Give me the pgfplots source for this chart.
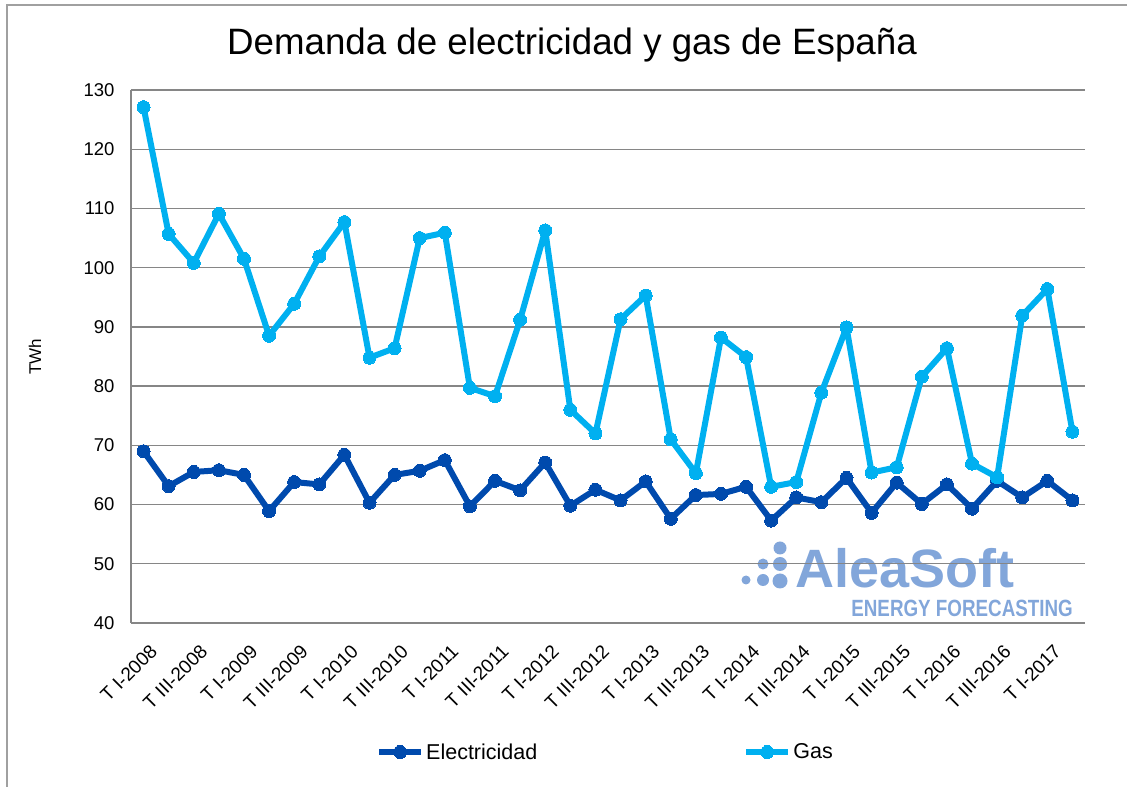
\documentclass[border=0pt]{standalone}
\usepackage{fontspec}
\setmainfont{Liberation Sans}
\usepackage{pgfplots}
\usepackage{pgfplotstable}
\pgfplotsset{compat=1.18}
\definecolor{elec}{RGB}{0,74,173}
\definecolor{gas}{RGB}{0,176,240}
\definecolor{gridgray}{RGB}{134,134,134}
\definecolor{logo}{RGB}{130,166,218}

% quarterly demand, TWh (0 = T I-2008 ... 37 = T II-2017)
\pgfplotstableread{
q  elec  gas
0  69.0  127.1
1  63.1  105.7
2  65.5  100.8
3  65.8  109.1
4  65.0  101.5
5  58.9  88.5
6  63.8  93.9
7  63.4  101.9
8  68.4  107.7
9  60.3  84.8
10 65.0  86.4
11 65.7  105.0
12 67.5  105.9
13 59.7  79.7
14 64.0  78.3
15 62.4  91.2
16 67.1  106.3
17 59.8  76.0
18 62.5  72.0
19 60.7  91.3
20 63.9  95.3
21 57.6  71.0
22 61.6  65.3
23 61.8  88.2
24 63.0  84.9
25 57.3  63.0
26 61.2  63.8
27 60.4  78.9
28 64.5  89.9
29 58.6  65.4
30 63.7  66.3
31 60.1  81.6
32 63.4  86.4
33 59.3  66.9
34 64.0  64.6
35 61.2  91.9
36 64.0  96.4
37 60.7  72.3
}\demanda

\begin{document}
\begin{tikzpicture}
\path[use as bounding box] (0,0) rectangle (1127pt,787pt);
\draw[color={rgb,255:red,160;green,160;blue,160}, line width=1.5pt] (7pt,0pt) -- (7pt,782pt) -- (1127pt,782pt);

% title and y label
\node[anchor=base, font=\fontsize{36.7}{40}\selectfont] at (572pt,732pt) {Demanda de electricidad y gas de España};
\node[rotate=90, font=\fontsize{17}{20}\selectfont] at (35pt,430pt) {TWh};

% logo (under the grid)
\begin{scope}[logo]
\fill (746pt,207pt) circle (4.5pt);
\fill (763pt,223pt) circle (5.5pt);
\fill (763pt,207pt) circle (6pt);
\fill (780pt,239pt) circle (6.5pt);
\fill (780pt,223pt) circle (7pt);
\fill (780pt,206pt) circle (7.5pt);
\node[anchor=base west, inner sep=0pt, font=\fontsize{54}{56}\selectfont\bfseries] at (795pt,199pt) {AleaSoft};
\node[anchor=base east, inner sep=0pt] at (1073pt,170pt) {\scalebox{0.8}[1]{\fontsize{23.5}{25}\selectfont\bfseries ENERGY FORECASTING}};
\end{scope}

\begin{axis}[
    at={(131pt,164pt)}, anchor=south west,
    scale only axis,
    width=954pt, height=533pt,
    xmin=-0.5, xmax=37.5,
    ymin=40, ymax=130,
    ytick={40,50,...,130},
    xtick={0,2,...,36},
    xticklabels={T I-2008,T III-2008,T I-2009,T III-2009,T I-2010,T III-2010,T I-2011,T III-2011,T I-2012,T III-2012,T I-2013,T III-2013,T I-2014,T III-2014,T I-2015,T III-2015,T I-2016,T III-2016,T I-2017},
    axis x line=bottom, axis y line=left,
    axis line style={draw=gridgray, line width=1.3pt, -},
    major tick length=0pt,
    ymajorgrids,
    major grid style={draw=gridgray, line width=1.3pt},
    /pgf/number format/assume math mode=true,
    yticklabel style={font=\fontsize{18.5}{20}\selectfont, anchor=east, xshift=-13pt},
    xticklabel style={font=\fontsize{19}{20}\selectfont, rotate=45, anchor=east, xshift=-7pt, yshift=-25pt},
    legend columns=2,
    legend style={at={(0.2568,-0.242)}, anchor=west, draw=none, fill=none,
        inner sep=0pt, font=\fontsize{21.5}{23}\selectfont,
        /tikz/every even column/.append style={column sep=204pt}},
    legend image code/.code={\draw[mark repeat=2, mark phase=2, #1] plot coordinates {(0pt,0pt) (21pt,0pt) (42pt,0pt)};},
]
\addplot[elec, line width=6pt, line join=round, mark=*, mark size=6.5pt, mark options={solid, line width=0pt}] table[x=q, y=elec] {\demanda};
\addlegendentry{Electricidad}
\addplot[gas, line width=6pt, line join=round, mark=*, mark size=6.5pt, mark options={solid, line width=0pt}] table[x=q, y=gas] {\demanda};
\addlegendentry{Gas}
\end{axis}
\end{tikzpicture}
\end{document}
